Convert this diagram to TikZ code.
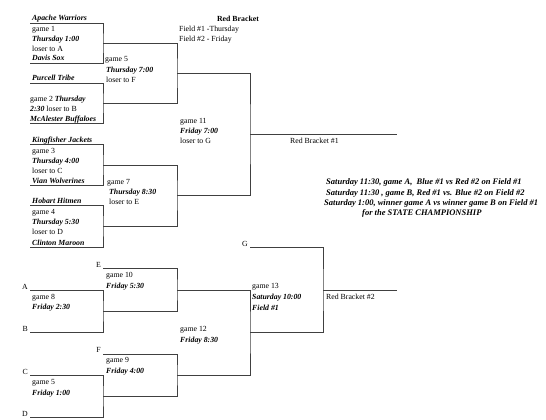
\documentclass[tikz,border=0pt]{standalone}
\usepackage{fontspec}
\setmainfont{Liberation Serif}
\begin{document}
\begin{tikzpicture}[x=1pt, y=-1pt,
    every node/.style = {inner sep=0pt, anchor=base west, font=\fontsize{7.8}{9}\selectfont},
    team/.style = {font=\fontsize{7.8}{9}\selectfont\bfseries\itshape},
    note/.style = {font=\fontsize{8.5}{10}\selectfont\bfseries\itshape},
    lbl/.style = {anchor=base east},
    slot/.style = {draw=black!75, line width=.7pt}]
  \useasboundingbox (0,0) rectangle (546,420);
  % red bracket #1
  \coordinate (aw) at (30,23); % Apache Warriors
  \coordinate (ds) at (30,63); % Davis Sox
  \coordinate (pt) at (30,83); % Purcell Tribe
  \coordinate (mb) at (30,123); % McAlester Buffaloes
  \coordinate (kj) at (30,144); % Kingfisher Jackets
  \coordinate (vw) at (30,185); % Vian Wolverines
  \coordinate (hh) at (30,205); % Hobart Hitmen
  \coordinate (cm) at (30,247); % Clinton Maroon
  \coordinate (g1) at (103,43);
  \coordinate (g2) at (103,103);
  \coordinate (g3) at (103,165);
  \coordinate (g4) at (103,226);
  \coordinate (g5) at (177,73);
  \coordinate (g7) at (177,195);
  \coordinate (g11) at (250,134);
  \coordinate (rb1) at (397,134);
  \draw[slot] (aw) -| (g1) |- (ds);
  \draw[slot] (pt) -| (g2) |- (mb);
  \draw[slot] (kj) -| (g3) |- (vw);
  \draw[slot] (hh) -| (g4) |- (cm);
  \draw[slot] (g1) -| (g5) |- (g2);
  \draw[slot] (g3) -| (g7) |- (g4);
  \draw[slot] (g5) -| (g11) |- (g7);
  \draw[slot] (g11) -- (rb1);
  % red bracket #2 (losers)
  \coordinate (la) at (30,290); % A
  \coordinate (lb) at (30,332); % B
  \coordinate (lc) at (30,375); % C
  \coordinate (ld) at (30,417); % D
  \coordinate (le) at (103,268); % E
  \coordinate (lf) at (103,354); % F
  \coordinate (lg) at (250,247); % G
  \coordinate (g8) at (103,311);
  \coordinate (g6) at (103,396);
  \coordinate (g10) at (177,290);
  \coordinate (g9) at (177,375);
  \coordinate (g12) at (250,332);
  \coordinate (g13) at (323,290);
  \coordinate (rb2) at (397,290);
  \draw[slot] (la) -| (g8) |- (lb);
  \draw[slot] (lc) -| (g6) |- (ld);
  \draw[slot] (le) -| (g10) |- (g8);
  \draw[slot] (lf) -| (g9) |- (g6);
  \draw[slot] (g10) -| (g12) |- (g9);
  \draw[slot] (lg) -| (g13) |- (g12);
  \draw[slot] (g13) -- (rb2);
  % heading
  \node (head) at (238,22) [anchor=base, font=\fontsize{7.8}{9}\selectfont\bfseries] {Red Bracket};
  \node (fld1) at (179,32) {Field \#1 -Thursday};
  \node (fld2) at (179,42) {Field \#2 - Friday};
  % game 1
  \node (t1) at (32,21) [team] {Apache Warriors};
  \node (n1) at (32,32) {game 1};
  \node (d1) at (32,42) [team] {Thursday 1:00};
  \node (x1) at (32,52) {loser to A};
  \node (t2) at (32,61) [team] {Davis Sox};
  % game 2
  \node (t3) at (32,81) [team] {Purcell Tribe};
  \node (n2) at (30,101) {game 2 \textbf{\textit{Thursday}}};
  \node (x2) at (30,111) {\textbf{\textit{2:30}} loser to B};
  \node (t4) at (30,121) [team] {McAlester Buffaloes};
  % game 5
  \node (n5) at (105,62) {game 5};
  \node (d5) at (106,72) [team] {Thursday 7:00};
  \node (x5) at (106,82) {loser to F};
  % game 3
  \node (t5) at (32,142) [team] {Kingfisher Jackets};
  \node (n3) at (32,153) {game 3};
  \node (d3) at (32,163) [team] {Thursday 4:00};
  \node (x3) at (32,173) {loser to C};
  \node (t6) at (32,183) [team] {Vian Wolverines};
  % game 4
  \node (t7) at (32,203) [team] {Hobart Hitmen};
  \node (n4) at (32,214) {game 4};
  \node (d4) at (32,224) [team] {Thursday 5:30};
  \node (x4) at (32,234) {loser to D};
  \node (t8) at (32,245) [team] {Clinton Maroon};
  % game 7
  \node (n7) at (107,184) {game 7};
  \node (d7) at (109,194) [team] {Thursday 8:30};
  \node (x7) at (109,204) {loser to E};
  % game 11
  \node (n11) at (180,123) {game 11};
  \node (d11) at (180,133) [team] {Friday 7:00};
  \node (x11) at (180,143) {loser to G};
  \node (w1) at (290,143) {Red Bracket \#1};
  % saturday schedule
  \node (s1) at (326,184) [note] {Saturday 11:30, game A,\ \ Blue \#1 vs Red \#2 on Field \#1};
  \node (s2) at (326,195) [note] {Saturday 11:30 , game B, Red \#1 vs. Blue \#2 on Field \#2};
  \node (s3) at (324,205) [note] {Saturday 1:00, winner game A vs winner game B on Field \#1};
  \node (s4) at (362,215) [note] {for the STATE CHAMPIONSHIP};
  % loser labels
  \node (ta) at (28,289) [lbl] {A};
  \node (tb) at (28,331) [lbl] {B};
  \node (tc) at (28,374) [lbl] {C};
  \node (td) at (28,416) [lbl] {D};
  \node (te) at (101,267) [lbl] {E};
  \node (tf) at (101,352) [lbl] {F};
  \node (tg) at (248,246) [lbl] {G};
  % lower games
  \node (n10) at (106,277) {game 10};
  \node (d10) at (106,288) [team] {Friday 5:30};
  \node (n8) at (32,299) {game 8};
  \node (d8) at (32,309) [team] {Friday 2:30};
  \node (n9) at (106,362) {game 9};
  \node (d9) at (106,373) [team] {Friday 4:00};
  \node (n6) at (32,384) {game 5};
  \node (d6) at (32,395) [team] {Friday 1:00};
  \node (n12) at (180,331) {game 12};
  \node (d12) at (180,342) [team] {Friday 8:30};
  \node (n13) at (252,288) {game 13};
  \node (d13) at (252,299) [team] {Saturday 10:00};
  \node (f13) at (252,310) [team] {Field \#1};
  \node (w2) at (326,299) {Red Bracket \#2};
\end{tikzpicture}
\end{document}
